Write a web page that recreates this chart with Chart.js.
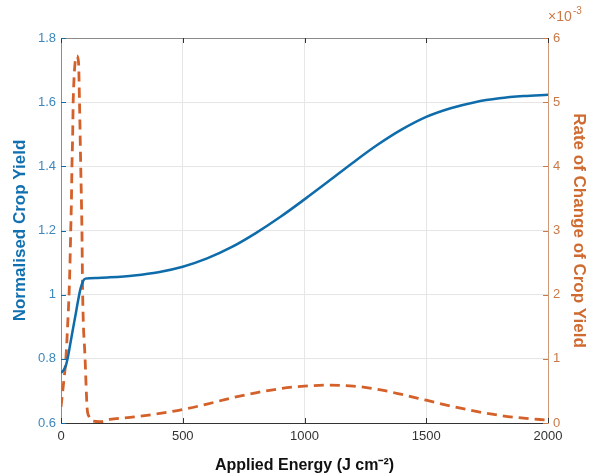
<!DOCTYPE html>
<html lang="en">
<head>
  <meta charset="UTF-8">
  <title>Crop Yield vs Applied Energy</title>
  <script src="https://cdn.jsdelivr.net/npm/chart.js"></script>
  <style>
    body { margin: 0; padding: 0; background: #fff; }
    #wrap { width: 589px; height: 475px; }
  </style>
</head>
<body>
  <div id="wrap"><canvas id="myChart" width="589" height="475"></canvas></div>

  <script>
    // normalised crop yield (left axis)
    const yieldEnergy = [0, 10, 20, 30, 40, 50, 60, 70, 80, 90, 100, 150, 200, 300, 400, 500, 600, 700, 800, 900,
      1000, 1100, 1200, 1300, 1400, 1500, 1600, 1700, 1800, 1900, 2000];
    const yieldValues = [0.756, 0.764, 0.779, 0.812, 0.855, 0.897, 0.938, 0.981, 1.018, 1.041, 1.05, 1.052, 1.054, 1.06, 1.07, 1.087, 1.113, 1.148, 1.192, 1.242,
      1.297, 1.354, 1.412, 1.467, 1.515, 1.554, 1.581, 1.6, 1.612, 1.619, 1.623];

    // rate of change, in units of 1e-3 (right axis)
    const rateEnergy = [0, 10, 20, 27, 33, 37, 40, 43, 45, 48, 50, 54, 58, 65, 72, 76, 81, 86, 89, 99, 107, 115, 130, 160,
      200, 300, 400, 500, 600, 700, 800, 900, 1000, 1100, 1200, 1300, 1400, 1500, 1600, 1700, 1800, 1900, 2000];
    const rateValues = [0.25, 0.6, 1.0, 1.5, 2.0, 2.5, 3.0, 3.5, 4.0, 4.5, 5.0, 5.4, 5.62, 5.72, 5.62, 5.0, 4.0, 3.0, 2.0, 1.0, 0.25, 0.1, 0.03, 0.02,
      0.055, 0.095, 0.145, 0.21, 0.295, 0.39, 0.47, 0.535, 0.575, 0.59, 0.575, 0.525, 0.445, 0.355, 0.265, 0.185, 0.12, 0.075, 0.045];

    const xTicks = [0, 500, 1000, 1500, 2000];
    const leftTicks = [0.6, 0.8, 1, 1.2, 1.4, 1.6, 1.8];
    const rightTicks = [0, 1, 2, 3, 4, 5, 6];

    const blue = '#0f6cab';
    const orange = '#d4612a';

    function toPoints(xs, ys) {
      return xs.map((x, i) => ({ x: x, y: ys[i] }));
    }

    // box outline, inner ticks and the exponent label
    const matlabBits = {
      id: 'matlabBits',
      afterDraw(chart) {
        const ctx = chart.ctx;
        const a = chart.chartArea;
        const sx = chart.scales.x, sl = chart.scales.yL, sr = chart.scales.yR;
        ctx.save();
        ctx.lineWidth = 1;
        ctx.strokeStyle = '#8c8c8c';
        ctx.beginPath();
        ctx.moveTo(a.left, a.top + 0.5);
        ctx.lineTo(a.right, a.top + 0.5);
        ctx.stroke();

        ctx.strokeStyle = '#333';
        xTicks.forEach(v => {
          const px = Math.round(sx.getPixelForValue(v)) + 0.5;
          ctx.beginPath();
          ctx.moveTo(px, a.bottom); ctx.lineTo(px, a.bottom - 5);
          ctx.moveTo(px, a.top); ctx.lineTo(px, a.top + 5);
          ctx.stroke();
        });
        ctx.strokeStyle = blue;
        leftTicks.forEach(v => {
          const py = Math.round(sl.getPixelForValue(v)) + 0.5;
          ctx.beginPath(); ctx.moveTo(a.left, py); ctx.lineTo(a.left + 5, py); ctx.stroke();
        });
        ctx.strokeStyle = '#c97a48';
        rightTicks.forEach(v => {
          const py = Math.round(sr.getPixelForValue(v)) + 0.5;
          ctx.beginPath(); ctx.moveTo(a.right, py); ctx.lineTo(a.right - 5, py); ctx.stroke();
        });

        ctx.fillStyle = '#c97a48';
        ctx.textBaseline = 'alphabetic';
        ctx.font = '14px "Liberation Sans", Arial, sans-serif';
        ctx.fillText('\u00d710', 548, 21);
        ctx.font = '10px "Liberation Sans", Arial, sans-serif';
        ctx.fillText('-3', 573, 14);
        ctx.restore();
      }
    };

    const tickFont = { family: '"Liberation Sans", Arial, sans-serif', size: 13 };
    const titleFont = { family: '"Liberation Sans", Arial, sans-serif', size: 16, weight: 'bold' };
    const sideTitleFont = { family: '"Liberation Sans", Arial, sans-serif', size: 17, weight: 'bold' };

    new Chart(document.getElementById('myChart'), {
      type: 'line',
      data: {
        datasets: [
          {
            label: 'Normalised Crop Yield',
            data: toPoints(yieldEnergy, yieldValues),
            yAxisID: 'yL',
            borderColor: blue,
            borderWidth: 2.5,
            pointRadius: 0,
            cubicInterpolationMode: 'monotone',
            fill: false
          },
          {
            label: 'Rate of Change of Crop Yield',
            data: toPoints(rateEnergy, rateValues),
            yAxisID: 'yR',
            borderColor: orange,
            borderWidth: 2.8,
            borderDash: [10, 6],
            pointRadius: 0,
            cubicInterpolationMode: 'monotone',
            fill: false
          }
        ]
      },
      options: {
        responsive: false,
        animation: false,
        layout: { padding: { top: 38, left: 0, right: 0, bottom: 0 } },
        plugins: { legend: { display: false }, tooltip: { enabled: false } },
        scales: {
          x: {
            type: 'linear',
            min: 0, max: 2000,
            afterBuildTicks: s => { s.ticks = xTicks.map(v => ({ value: v })); },
            afterFit: s => { s.height = 52; },
            grid: { color: '#e6e6e6', drawTicks: false },
            border: { color: '#333', width: 1 },
            ticks: { color: '#333', font: tickFont, padding: 6, maxRotation: 0, callback: v => String(v) },
            title: { display: true, text: 'Applied Energy (J cm\u207b\u00b2)', color: '#111', font: titleFont, padding: { top: 0, bottom: 0 } }
          },
          yL: {
            type: 'linear',
            position: 'left',
            min: 0.6, max: 1.8,
            afterBuildTicks: s => { s.ticks = leftTicks.map(v => ({ value: v })); },
            afterFit: s => { s.width = 61; },
            grid: { color: '#e6e6e6', drawTicks: false },
            border: { color: '#5b9bc8', width: 1 },
            ticks: { color: '#3d87ba', font: tickFont, padding: 5, callback: v => String(v) },
            title: { display: true, text: 'Normalised Crop Yield', color: '#1070b0', font: sideTitleFont, padding: { top: 10, bottom: 0 } }
          },
          yR: {
            type: 'linear',
            position: 'right',
            min: 0, max: 6,
            afterBuildTicks: s => { s.ticks = rightTicks.map(v => ({ value: v })); },
            afterFit: s => { s.width = 41; },
            grid: { display: false, drawTicks: false },
            border: { color: '#d09a78', width: 1 },
            ticks: { color: '#c97a48', font: tickFont, padding: 5 },
            title: { display: true, text: 'Rate of Change of Crop Yield', color: '#cf6a30', font: sideTitleFont, padding: { top: 0, bottom: 0 } }
          }
        }
      },
      plugins: [matlabBits]
    });
  </script>
</body>
</html>
